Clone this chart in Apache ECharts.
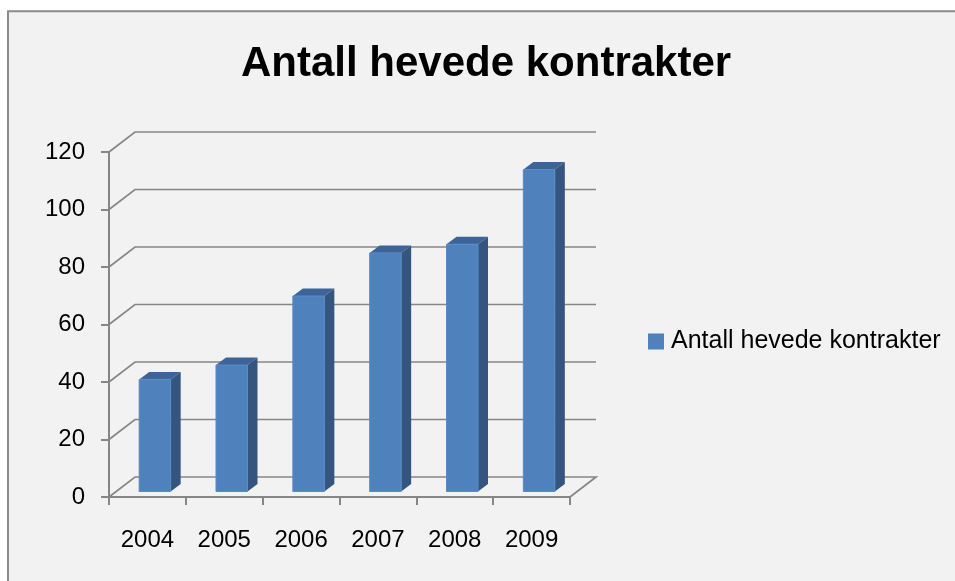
<!DOCTYPE html>
<html>
<head>
<meta charset="utf-8">
<script src="https://cdn.jsdelivr.net/npm/echarts@6/dist/echarts.min.js"></script>
<style>
  html, body { margin: 0; padding: 0; background: #fff; }
  #chart { width: 955px; height: 581px; }
</style>
</head>
<body>
<div id="chart"></div>
<script>
var years = ['2004', '2005', '2006', '2007', '2008', '2009'];
var contracts = [39, 44, 68, 83, 86, 112];
var gridValues = [0, 20, 40, 60, 80, 100, 120];

var seriesName = 'Antall hevede kontrakter';

var DX = 26, DY = -20;        // depth of the 3d box
var BAR_DX = 7.5, BAR_DY = -5.5;  // bar front face offset into the box
var SIDE_DX = 10, SIDE_DY = -7.5; // bar depth
var BAR_W = 31.5;

var myChart = echarts.init(document.getElementById('chart'), null, {renderer: 'canvas'});

// walls / gridlines in perspective
function renderGrid (params, api) {
  var v = api.value(1);
  var y = api.coord([0, v])[1];
  var x0 = params.coordSys.x;
  var x1 = x0 + params.coordSys.width;
  var pts = [[x0, y], [x0 + DX, y + DY], [x1 + DX, y + DY]];
  if (v === 0) pts.push([x1, y]);
  return {
    type: 'polyline',
    shape: {points: pts},
    style: {stroke: '#868686', lineWidth: 1.7, fill: null}
  };
}

// 3d bar: front, side and top face
function renderBar (params, api) {
  var idx = api.value(0);
  var top = api.coord([idx, api.value(1)]);
  var bottom = api.coord([idx, 0]);
  var xl = top[0] - BAR_W / 2 + BAR_DX;
  var xr = xl + BAR_W;
  var yt = top[1] + BAR_DY;
  var yb = bottom[1] + BAR_DY;
  return {
    type: 'group',
    children: [
      {
        type: 'polygon',
        shape: {points: [[xr, yt], [xr + SIDE_DX, yt + SIDE_DY], [xr + SIDE_DX, yb + SIDE_DY], [xr, yb]]},
        style: {fill: '#33557f'}
      },
      {
        type: 'polygon',
        shape: {points: [[xl, yt], [xl + SIDE_DX, yt + SIDE_DY], [xr + SIDE_DX, yt + SIDE_DY], [xr, yt]]},
        style: {fill: '#3d6498'}
      },
      {
        type: 'rect',
        shape: {x: xl, y: yt, width: BAR_W, height: yb - yt},
        style: {fill: '#4f81bd', stroke: '#5a8bc6', lineWidth: 1}
      }
    ]
  };
}

var option = {
  backgroundColor: '#ffffff',
  animation: false,
  graphic: [{
    type: 'rect',
    z: -10,
    shape: {x: 8, y: 11.3, width: 1000, height: 700},
    style: {fill: '#f2f2f2', stroke: '#8a8a8a', lineWidth: 2}
  }],
  title: {
    text: seriesName,
    left: 241,
    top: 43,
    padding: 0,
    textStyle: {
      fontFamily: 'Liberation Sans',
      fontWeight: 'bold',
      fontSize: 42,
      color: '#000'
    }
  },
  legend: {
    data: [{name: seriesName, icon: 'rect'}],
    left: 648,
    top: 329,
    itemWidth: 16,
    itemHeight: 16,
    itemGap: 0,
    padding: 0,
    textStyle: {fontFamily: 'Liberation Sans', fontSize: 25, color: '#000', padding: [0, 0, 0, 2]}
  },
  grid: {left: 109, top: 152, width: 461, height: 345},
  xAxis: {
    type: 'category',
    data: years,
    axisLine: {lineStyle: {color: '#868686', width: 2}},
    axisTick: {show: true, length: 8, lineStyle: {color: '#868686', width: 2}},
    axisLabel: {margin: 31, fontFamily: 'Liberation Sans', fontSize: 24, color: '#000'}
  },
  yAxis: {
    type: 'value',
    min: 0,
    max: 120,
    interval: 20,
    axisLine: {show: true, lineStyle: {color: '#868686', width: 2}},
    axisTick: {show: true, length: 8, lineStyle: {color: '#868686', width: 2}},
    splitLine: {show: false},
    axisLabel: {margin: 24, fontFamily: 'Liberation Sans', fontSize: 24, color: '#000'}
  },
  series: [
    {
      name: 'grid',
      type: 'custom',
      silent: true,
      renderItem: renderGrid,
      encode: {x: 0, y: 1},
      data: gridValues.map(function (v) { return [0, v]; }),
      z: 1
    },
    {
      name: seriesName,
      type: 'custom',
      renderItem: renderBar,
      itemStyle: {color: '#4f81bd'},
      encode: {x: 0, y: 1},
      data: contracts.map(function (v, i) { return [i, v]; }),
      z: 3
    }
  ]
};

myChart.setOption(option);
</script>
</body>
</html>
